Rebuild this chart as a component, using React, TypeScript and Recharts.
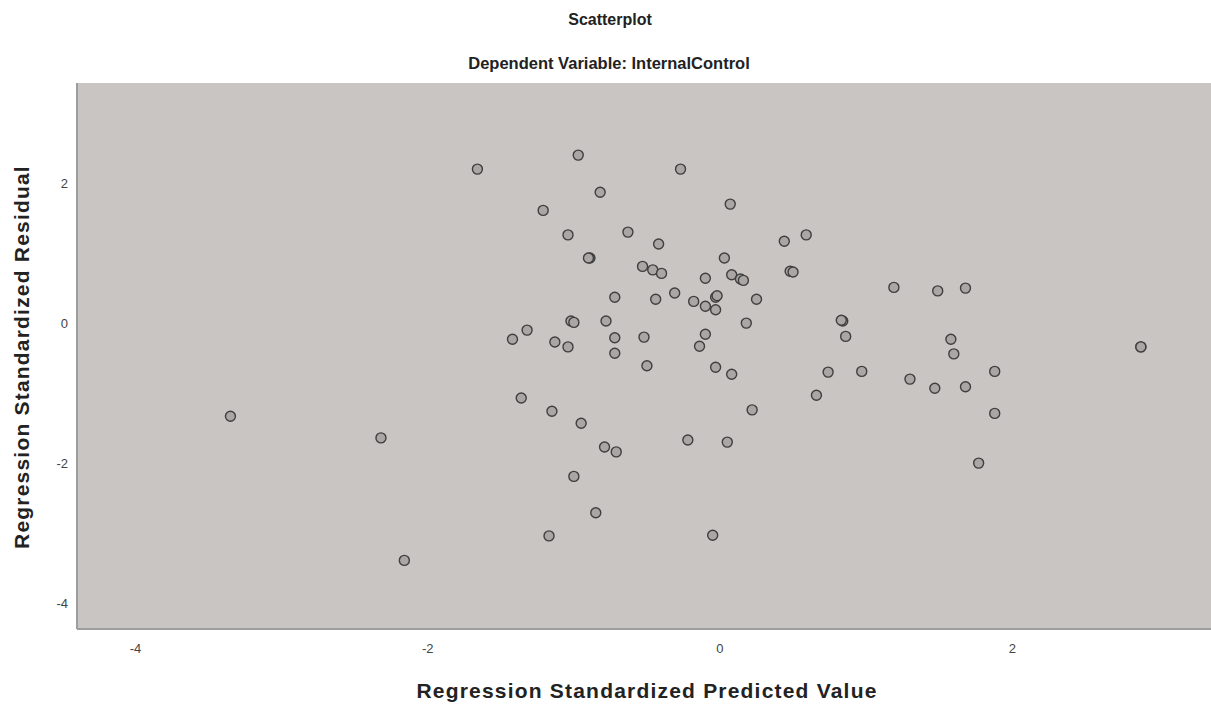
import React from 'react';
import { ScatterChart, Scatter, XAxis, YAxis, CartesianGrid } from 'recharts';

const predicted: number[] = [
  -3.35, -2.32, -2.16, -1.66, -1.42, -1.32, -1.36, -1.21, -1.13, -1.15,
  -1.17, -1.04, -1.04, -1.02, -1.0, -1.0, -0.97, -0.95, -0.89, -0.9,
  -0.85, -0.82, -0.79, -0.78, -0.72, -0.72, -0.72, -0.71, -0.63, -0.53,
  -0.52, -0.5, -0.46, -0.44, -0.42, -0.4, -0.31, -0.27, -0.22, -0.18,
  -0.14, -0.1, -0.1, -0.1, -0.05, -0.03, -0.03, -0.02, -0.03, 0.03,
  0.05, 0.07, 0.08, 0.08, 0.14, 0.16, 0.18, 0.22, 0.25, 0.44,
  0.48, 0.5, 0.59, 0.66, 0.74, 0.84, 0.83, 0.86, 0.97, 1.19,
  1.3, 1.47, 1.49, 1.58, 1.6, 1.68, 1.68, 1.77, 1.88, 1.88,
  2.88, 2.88,
];

const residual: number[] = [
  -1.33, -1.64, -3.39, 2.2, -0.23, -0.1, -1.07, 1.61, -0.27, -1.26,
  -3.04, 1.26, -0.34, 0.03, 0.01, -2.19, 2.4, -1.43, 0.93, 0.93,
  -2.71, 1.87, -1.77, 0.03, 0.37, -0.21, -0.43, -1.84, 1.3, 0.81,
  -0.2, -0.61, 0.76, 0.34, 1.13, 0.71, 0.43, 2.2, -1.67, 0.31,
  -0.33, 0.24, 0.64, -0.16, -3.03, -0.63, 0.37, 0.39, 0.19, 0.93,
  -1.7, 1.7, -0.73, 0.69, 0.63, 0.61, 0.0, -1.24, 0.34, 1.17,
  0.74, 0.73, 1.26, -1.03, -0.7, 0.03, 0.04, -0.19, -0.69, 0.51,
  -0.8, -0.93, 0.46, -0.23, -0.44, 0.5, -0.91, -2.0, -0.69, -1.29,
  -0.34, -0.34,
];

const xTicks: number[] = [-4, -2, 0, 2];
const yTicks: number[] = [-4, -2, 0, 2];

const title = 'Scatterplot';
const subtitle = 'Dependent Variable: InternalControl';
const xLabel = 'Regression Standardized Predicted Value';
const yLabel = 'Regression Standardized Residual';

const data = predicted.map((x, i) => ({ x, y: residual[i] }));

const FONT = '"Liberation Sans", Arial, sans-serif';

const Dot = (props: any) => {
  const { cx, cy } = props;
  if (cx == null || cy == null) return null;
  return <circle cx={cx} cy={cy} r={5} fill="#a9a6a4" stroke="#3f3f3f" strokeWidth={1.4} />;
};

export default function App() {
  return (
    <div style={{ position: 'absolute', left: 0, top: 0, width: 1211, height: 704, background: '#fff', fontFamily: FONT }}>
      <ScatterChart
        width={1211}
        height={704}
        margin={{ top: 83, right: 0, left: 17, bottom: 35 }}
      >
        <CartesianGrid fill="#c9c5c2" stroke="none" horizontal={false} vertical={false} />
        <XAxis
          type="number"
          dataKey="x"
          domain={[-4.4, 3.36]}
          ticks={xTicks}
          allowDataOverflow
          height={40}
          axisLine={{ stroke: '#9d9d9d', strokeWidth: 2 }}
          tickLine={false}
          tickMargin={9}
          tick={{ fill: '#444', fontSize: 13, fontFamily: FONT }}
        />
        <YAxis
          type="number"
          dataKey="y"
          domain={[-4.37, 3.43]}
          ticks={yTicks}
          allowDataOverflow
          width={60}
          axisLine={{ stroke: '#9d9d9d', strokeWidth: 2 }}
          tickLine={false}
          tickMargin={3}
          tick={{ fill: '#444', fontSize: 13, fontFamily: FONT }}
        />
        <Scatter data={data} shape={Dot} isAnimationActive={false} />
      </ScatterChart>
      <div style={{ position: 'absolute', left: 0, width: 1220, top: 10, textAlign: 'center', fontSize: 16, fontWeight: 'bold', color: '#222', lineHeight: '20px' }}>
        {title}
      </div>
      <div style={{ position: 'absolute', left: 0, width: 1218, top: 53, textAlign: 'center', fontSize: 16.5, fontWeight: 'bold', color: '#222', lineHeight: '20px' }}>
        {subtitle}
      </div>
      <div style={{ position: 'absolute', left: 147, width: 1000, top: 679, textAlign: 'center', fontSize: 21, fontWeight: 'bold', color: '#222', lineHeight: '24px', letterSpacing: '1.2px' }}>
        {xLabel}
      </div>
      <div style={{ position: 'absolute', left: 22 - 250, width: 500, top: 357 - 12, textAlign: 'center', fontSize: 21, fontWeight: 'bold', color: '#222', lineHeight: '24px', letterSpacing: '1.2px', transform: 'rotate(-90deg)' }}>
        {yLabel}
      </div>
    </div>
  );
}
